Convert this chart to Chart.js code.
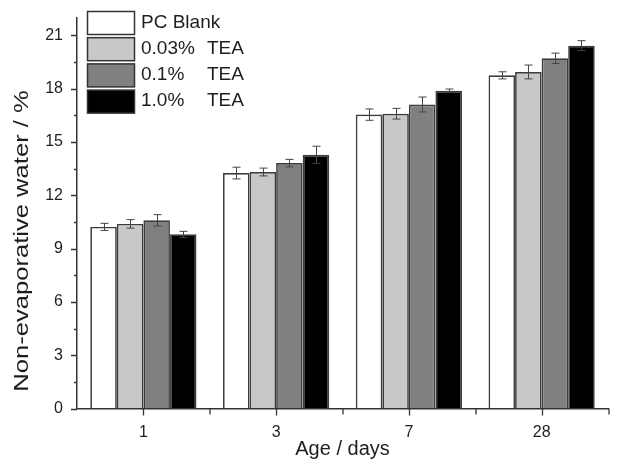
<!DOCTYPE html>
<html>
<head>
<meta charset="utf-8">
<script src="https://cdn.jsdelivr.net/npm/chart.js@4/dist/chart.umd.min.js"></script>
<style>
html, body { margin: 0; padding: 0; background: #fff; }
</style>
</head>
<body>
<canvas id="chart" width="623" height="461"></canvas>
<script>
// data
const ages = ['1', '3', '7', '28'];
const seriesNames = ['PC Blank', '0.03% TEA', '0.1%   TEA', '1.0%   TEA'];
const blank   = [10.22, 13.25, 16.54, 18.75];
const tea003  = [10.39, 13.31, 16.59, 18.94];
const tea01   = [10.59, 13.81, 17.11, 19.71];
const tea10   = [9.80, 14.28, 17.88, 20.42];
const blankErr  = [0.20, 0.33, 0.32, 0.20];
const tea003Err = [0.24, 0.22, 0.30, 0.39];
const tea01Err  = [0.32, 0.21, 0.42, 0.29];
const tea10Err  = [0.17, 0.48, 0.10, 0.28];
const yTicks = [0, 3, 6, 9, 12, 15, 18, 21];
const yTitle = 'Non-evaporative water / %';

const fills = ['#ffffff', '#c8c8c8', '#808080', '#000000'];
const ink = '#1e1e1e';
const font = 'Liberation Sans, Arial, sans-serif';

const values = [blank, tea003, tea01, tea10];
const errors = [blankErr, tea003Err, tea01Err, tea10Err];

// error bars
const errorBars = {
  id: 'errorBars',
  afterDatasetsDraw(chart) {
    const ctx = chart.ctx, y = chart.scales.y;
    ctx.save();
    ctx.strokeStyle = '#444';
    ctx.lineWidth = 1;
    chart.data.datasets.forEach((ds, i) => {
      chart.getDatasetMeta(i).data.forEach((bar, j) => {
        const v = ds.data[j], e = ds.errors[j];
        const x = Math.round(bar.x) + 0.5;
        const top = y.getPixelForValue(v + e), bot = y.getPixelForValue(v - e);
        ctx.beginPath();
        ctx.moveTo(x, top); ctx.lineTo(x, bot);
        ctx.moveTo(x - 4, top); ctx.lineTo(x + 4, top);
        ctx.moveTo(x - 4, bot); ctx.lineTo(x + 4, bot);
        ctx.stroke();
      });
    });
    ctx.restore();
  }
};

// outward ticks (major + minor) and the stretched y title
const axisTicks = {
  id: 'axisTicks',
  afterDraw(chart) {
    const ctx = chart.ctx, xs = chart.scales.x, ys = chart.scales.y;
    const area = chart.chartArea;
    ctx.save();
    ctx.strokeStyle = '#333';
    ctx.lineWidth = 1.3;
    ctx.beginPath();
    ys.ticks.forEach(t => {
      const py = Math.round(ys.getPixelForValue(t.value)) + 0.5;
      const len = yTicks.includes(t.value) ? 6 : 3;
      ctx.moveTo(area.left, py); ctx.lineTo(area.left - len, py);
    });
    const half = (xs.getPixelForValue(1) - xs.getPixelForValue(0)) / 2;
    ages.forEach((a, i) => {
      const px = Math.round(xs.getPixelForValue(i)) + 0.5;
      ctx.moveTo(px, area.bottom); ctx.lineTo(px, area.bottom + 7);
      const mx = Math.round(px + half);
      ctx.moveTo(mx, area.bottom); ctx.lineTo(mx, area.bottom + 6);
    });
    ctx.stroke();

    ctx.translate(22.5, 241);
    ctx.rotate(-Math.PI / 2);
    ctx.scale(1.28, 1);
    ctx.fillStyle = ink;
    ctx.font = '20px ' + font;
    ctx.textAlign = 'center';
    ctx.textBaseline = 'middle';
    ctx.fillText(yTitle, 0, 0);
    ctx.restore();
  }
};

// legend in the upper left of the plot
const boxLegend = {
  id: 'boxLegend',
  afterDraw(chart) {
    const ctx = chart.ctx;
    ctx.save();
    ctx.font = '19px ' + font;
    ctx.textBaseline = 'middle';
    chart.data.datasets.forEach((ds, i) => {
      const top = 11.5 + i * 26.2;
      ctx.fillStyle = ds.backgroundColor;
      ctx.fillRect(87.5, top, 47, 23);
      ctx.strokeStyle = '#333';
      ctx.lineWidth = 1.5;
      ctx.strokeRect(87.5, top, 47, 23);
      ctx.fillStyle = ink;
      const parts = ds.label.split('%');
      if (parts.length > 1 && parts[1].trim() === 'TEA') {
        ctx.fillText(parts[0] + '%', 141, top + 11);
        ctx.fillText('TEA', 207, top + 11);
      } else {
        ctx.fillText(ds.label, 141, top + 11);
      }
    });
    ctx.restore();
  }
};

new Chart(document.getElementById('chart'), {
  type: 'bar',
  data: {
    labels: ages,
    datasets: seriesNames.map((name, i) => ({
      label: name,
      data: values[i],
      errors: errors[i],
      backgroundColor: fills[i],
      borderColor: '#3c3c3c',
      borderWidth: 1.7,
      barPercentage: 1,
      categoryPercentage: 0.8
    }))
  },
  options: {
    responsive: false,
    animation: false,
    devicePixelRatio: 1,
    layout: { padding: { top: 11.5, right: 15, left: 0, bottom: 0 } },
    plugins: { legend: { display: false }, tooltip: { enabled: false } },
    scales: {
      x: {
        grid: { drawOnChartArea: false, color: 'transparent', tickLength: 7 },
        border: { color: '#333', width: 1.5 },
        ticks: { color: ink, font: { family: font, size: 16 }, padding: 7 },
        title: { display: true, text: 'Age / days', color: ink,
                 font: { family: font, size: 20 }, padding: { top: 0, bottom: 0 } },
        afterFit(s) { s.height = 52.5; }
      },
      y: {
        min: 0,
        max: 22,
        grid: { drawOnChartArea: false, color: 'transparent', tickLength: 6 },
        border: { color: '#333', width: 1.5 },
        ticks: {
          stepSize: 1.5,
          includeBounds: false,
          autoSkip: false,
          color: ink,
          font: { family: font, size: 16 },
          padding: 8,
          callback: v => yTicks.includes(v) ? String(v) : ''
        },
        afterBuildTicks(s) { s.ticks = s.ticks.filter(t => t.value <= 21.01); },
        afterFit(s) { s.width = 77; }
      }
    }
  },
  plugins: [errorBars, axisTicks, boxLegend]
});
</script>
</body>
</html>
